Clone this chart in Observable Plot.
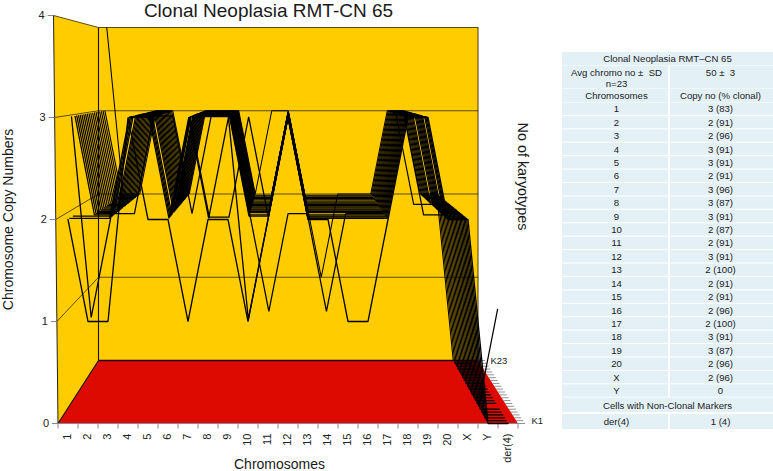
<!DOCTYPE html>
<html><head><meta charset="utf-8">
<script src="https://cdn.jsdelivr.net/npm/d3@7"></script>
<script src="https://cdn.jsdelivr.net/npm/@observablehq/plot@0.6"></script>
<style>html,body{margin:0;padding:0;background:#fff}svg{display:block}</style>
</head><body><div id="chart"></div>
<script>
const columns = ["1","2","3","4","5","6","7","8","9","10","11","12","13","14","15","16","17","18","19","20","X","Y","der(4)"];
const K1  = [2,1,1,3,2,2,1,2,2,1,2,3,2,2,1,1,2,3,3,2,2,0,0];
const K2  = [2,2,2,3,3,2,3,2,3,1,2,3,2,2,2,2,2,3,3,2,2,0,0];
const K3  = [3,1,2,3,3,2,3,2,2,3,2,3,2,2,2,2,2,3,3,2,2,0,0];
const K4  = [2,2,2,3,3,2,3,3,3,2,2,3,2,2,2,2,2,3,3,2,2,0,0];
const K5  = [3,2,2,3,3,2,3,3,3,2,2,3,2,2,2,2,2,3,2,2,2,0,0];
const K6  = [3,2,2,2,3,3,2,3,3,2,1,2,2,1,2,2,2,3,3,2,2,0,0];
const K7  = [3,2,2,3,3,2,3,3,3,2,2,3,2,2,2,2,2,3,3,2,2,0,1];
const K8  = [3,2,2,3,3,2,3,3,3,2,2,3,2,2,2,2,2,3,3,2,2,0,0];
const K9  = [3,2,2,3,3,2,3,3,3,2,2,3,2,2,2,2,2,3,3,2,2,0,0];
const K10 = [3,2,2,3,3,2,3,3,3,2,2,3,2,2,2,2,2,3,3,2,2,0,0];
const K11 = [3,2,2,3,3,2,3,3,3,2,2,3,2,2,2,2,2,3,3,2,2,0,0];
const K12 = [3,2,2,3,3,2,3,3,3,2,2,3,2,2,2,2,2,3,3,2,2,0,0];
const K13 = [3,2,2,3,3,2,3,3,3,2,2,3,2,2,2,2,2,3,3,2,2,0,0];
const K14 = [3,2,2,3,3,2,3,3,3,2,2,3,2,2,2,2,2,3,2,2,2,0,0];
const K15 = [3,2,2,3,3,2,3,3,3,2,2,3,2,2,2,2,2,3,3,2,2,0,0];
const K16 = [3,2,2,3,3,2,3,3,3,2,2,3,2,2,2,2,2,3,3,2,2,0,0];
const K17 = [3,2,2,3,3,2,3,3,3,2,2,3,2,2,2,2,2,3,3,2,2,0,0];
const K18 = [3,2,2,3,3,2,3,3,3,2,2,3,2,2,2,2,2,3,3,2,2,0,0];
const K19 = [3,2,2,3,3,2,3,3,3,2,2,3,2,2,2,2,2,3,3,2,2,0,0];
const K20 = [3,2,2,3,3,2,3,3,3,2,2,3,2,2,2,2,2,3,3,2,2,0,0];
const K21 = [3,2,2,3,3,2,3,3,3,2,2,3,2,2,2,2,2,3,3,2,2,0,0];
const K22 = [3,2,2,3,3,2,3,3,3,2,2,3,2,2,2,2,2,3,3,2,2,0,0];
const K23 = [4,2,2,3,3,2,3,3,3,2,3,3,2,1,2,2,2,3,3,2,2,0,0];
const karyotypes = [K1,K2,K3,K4,K5,K6,K7,K8,K9,K10,K11,K12,K13,K14,K15,K16,K17,K18,K19,K20,K21,K22,K23];
const copyLevels = [0,1,2,3,4];

const tableTitle = "Clonal Neoplasia RMT\u2013CN 65";
const tableAvg = ["Avg chromo no \u00b1  SD", "n=23", "50 \u00b1  3"];
const tableHead = ["Chromosomes", "Copy no (% clonal)"];
const tableChromosomes = ["1","2","3","4","5","6","7","8","9","10","11","12","13","14","15","16","17","18","19","20","X","Y"];
const tableCopy = ["3 (83)","2 (91)","2 (96)","3 (91)","3 (91)","2 (91)","3 (96)","3 (87)","3 (91)","2 (87)","2 (91)","3 (91)","2 (100)","2 (91)","2 (91)","2 (96)","2 (100)","3 (91)","3 (87)","2 (96)","2 (96)","0"];
const tableMarkerHead = "Cells with Non-Clonal Markers";
const tableMarker = ["der(4)", "1 (4)"];

// Oblique projection of the 3-D ribbon box on to the page.
const lerp = (a, b, t) => a + (b - a) * t;
const depth = k => (k - 1) / 22;                 // K1 front, K23 back
const px = (col, t) => lerp(57.5 + 20 * col, 98 + 16.5 * col, t);  // col is a box coordinate
const py = (c, t) => lerp(423 - 102 * c, 360 - 83.25 * c, t);
const lean = c => -1.12 * c;                     // the front wall's left edge leans slightly
const nCols = columns.length, nK = karyotypes.length;

const rows = karyotypes.flatMap((vals, i) => vals.map((c, j) => {
  const t = depth(i + 1);
  return {k: i + 1, x: px(j + 0.5, t), y: py(c, t), w: lerp(1.3, 1.05, t)};
})).sort((a, b) => b.k - a.k);

const polygon = pts => pts.map(([x, y]) => ({x, y}));
const leftWall = polygon([[px(0,0)+lean(4),py(4,0)],[px(0,1),py(4,1)],[px(0,1),py(0,1)],[px(0,0),py(0,0)]]);
const backWall = polygon([[px(0,1),py(4,1)],[px(nCols,1),py(4,1)],[px(nCols,1),py(0,1)],[px(0,1),py(0,1)]]);
const floor = polygon([[px(0,0),py(0,0)],[px(0,1),py(0,1)],[px(nCols,1),py(0,1)],[px(nCols,0),py(0,0)]]);
const grid = copyLevels.slice(1).flatMap(c => [
  {c, x: px(0,0)+lean(c), y: py(c,0)}, {c, x: px(0,1), y: py(c,1)}, {c, x: px(nCols,1), y: py(c,1)}]);
const yTicks = copyLevels.map(c => ({c, x: px(0,0)+lean(c), y: py(c,0)}));
const xTicks = d3.range(nCols + 1).map(j => ({x: px(j,0), y: py(0,0)}));
const kTicks = d3.range(1, nK + 1).map(k => ({x: px(nCols, depth(k)), y: py(0, depth(k))}));

const font = "Helvetica, 'Liberation Sans', Arial, sans-serif";
const tx = {left: 616, mid: 667, right: 720};
const rowY = i => 108.7 + 13.42 * i;       // chromosome row i
const tableBands = [
  {x1:562,x2:773,y1:52,y2:65.5},{x1:562,x2:668,y1:66,y2:88},{x1:670,x2:773,y1:66,y2:88},
  {x1:562,x2:668,y1:88.5,y2:102},{x1:670,x2:773,y1:88.5,y2:102},
  ...tableChromosomes.flatMap((_, i) => [
    {x1:562,x2:668,y1:rowY(i)-6.2,y2:rowY(i)+6.2},{x1:670,x2:773,y1:rowY(i)-6.2,y2:rowY(i)+6.2}]),
  {x1:562,x2:773,y1:397.5,y2:412},{x1:562,x2:668,y1:414,y2:429},{x1:670,x2:773,y1:414,y2:429}
];
const label = (text, x, y, opts = {}) => Plot.text([text], {x: () => x, y: () => y, text: d => d, fontFamily: font, fill: "#1a1a1a", ...opts});
const tableFont = 9.6;

const chart = Plot.plot({
  width: 773, height: 471, margin: 0,
  x: {domain: [0, 773], range: [0, 773], axis: null},
  y: {domain: [0, 471], range: [0, 471], axis: null},
  marks: [
    Plot.line(leftWall, {x: "x", y: "y", fill: "#FFCC00", stroke: "none"}),
    Plot.line(backWall, {x: "x", y: "y", fill: "#FFCC00", stroke: "none"}),
    Plot.line(floor, {x: "x", y: "y", fill: "#DC0A00", stroke: "none"}),
    Plot.line(grid, {x: "x", y: "y", z: "c", stroke: "#4a3c00", strokeWidth: 0.9, curve: "linear"}),
    // box edges
    Plot.link([0], {x1: () => px(0,0)+lean(4), y1: () => py(4,0), x2: () => px(0,0), y2: () => py(0,0), stroke: "#222", strokeWidth: 1}),
    Plot.link([0], {x1: () => px(0,1), y1: () => py(4,1), x2: () => px(0,1), y2: () => py(0,1), stroke: "#111", strokeWidth: 1.1}),
    Plot.link([0], {x1: () => px(0,0), y1: () => py(0,0), x2: () => px(0,1), y2: () => py(0,1), stroke: "#111", strokeWidth: 1.1}),
    Plot.link([0], {x1: () => px(0,1), y1: () => py(0,1), x2: () => px(nCols,1), y2: () => py(0,1), stroke: "#200", strokeWidth: 1.3}),
    Plot.link([0], {x1: () => px(nCols,1), y1: () => py(4,1), x2: () => px(nCols,1), y2: () => py(0,1), stroke: "#4a3c00", strokeWidth: 1}),
    // axes
    Plot.link(yTicks, {x1: d => d.x - 6, y1: "y", x2: "x", y2: "y", stroke: "#888", strokeWidth: 1}),
    Plot.link(xTicks, {x1: "x", y1: "y", x2: "x", y2: d => d.y + 5, stroke: "#888", strokeWidth: 1}),
    Plot.link([0], {x1: () => px(0,0), y1: () => py(0,0), x2: () => px(nCols,0), y2: () => py(0,0), stroke: "#888", strokeWidth: 1}),
    Plot.link(kTicks, {x1: "x", y1: "y", x2: d => d.x + 7, y2: "y", stroke: "#777", strokeWidth: 0.8}),
    // karyotype ribbons, back to front
    Plot.line(rows, {x: "x", y: "y", z: "k", stroke: "#000", strokeWidth: "w", curve: "linear", strokeLinejoin: "miter"}),
    // texts
    Plot.text(yTicks, {x: d => d.x - 12, y: "y", text: "c", fontFamily: font, fontSize: 11, fill: "#222"}),
    Plot.text(columns, {x: (d, i) => px(i + 0.5, 0) - 0.5, y: () => 433, text: d => d, rotate: -90, textAnchor: "end", fontFamily: font, fontSize: 11, fill: "#222"}),
    label("K1", 531, 420, {fontSize: 9.5, textAnchor: "start"}),
    label("K23", 490, 360, {fontSize: 9.5, textAnchor: "start"}),
    label("Clonal Neoplasia RMT-CN 65", 268, 10, {fontSize: 19}),
    label("Chromosome Copy Numbers", 8, 219, {fontSize: 14, rotate: -90}),
    label("Chromosomes", 279, 464, {fontSize: 14}),
    label("No of karyotypes", 522, 176, {fontSize: 14.4, rotate: 90}),
    // summary table
    Plot.rect(tableBands, {x1: "x1", x2: "x2", y1: "y1", y2: "y2", fill: "#E3F1F7"}),
    label(tableTitle, tx.mid, 58.7, {fontSize: tableFont}),
    label(tableAvg[0], tx.left, 72, {fontSize: tableFont}),
    label(tableAvg[1], tx.left, 83, {fontSize: tableFont}),
    label(tableAvg[2], tx.right, 72, {fontSize: tableFont}),
    label(tableHead[0], tx.left, 95, {fontSize: tableFont}),
    label(tableHead[1], tx.right, 95, {fontSize: tableFont}),
    Plot.text(tableChromosomes, {x: () => tx.left, y: (d, i) => rowY(i), text: d => d, fontFamily: font, fontSize: tableFont, fill: "#1a1a1a"}),
    Plot.text(tableCopy, {x: () => tx.right, y: (d, i) => rowY(i), text: d => d, fontFamily: font, fontSize: tableFont, fill: "#1a1a1a"}),
    label(tableMarkerHead, tx.mid, 405, {fontSize: tableFont}),
    label(tableMarker[0], tx.left, 421, {fontSize: tableFont}),
    label(tableMarker[1], tx.right, 421, {fontSize: tableFont})
  ]
});
document.getElementById("chart").appendChild(chart);
</script></body></html>
